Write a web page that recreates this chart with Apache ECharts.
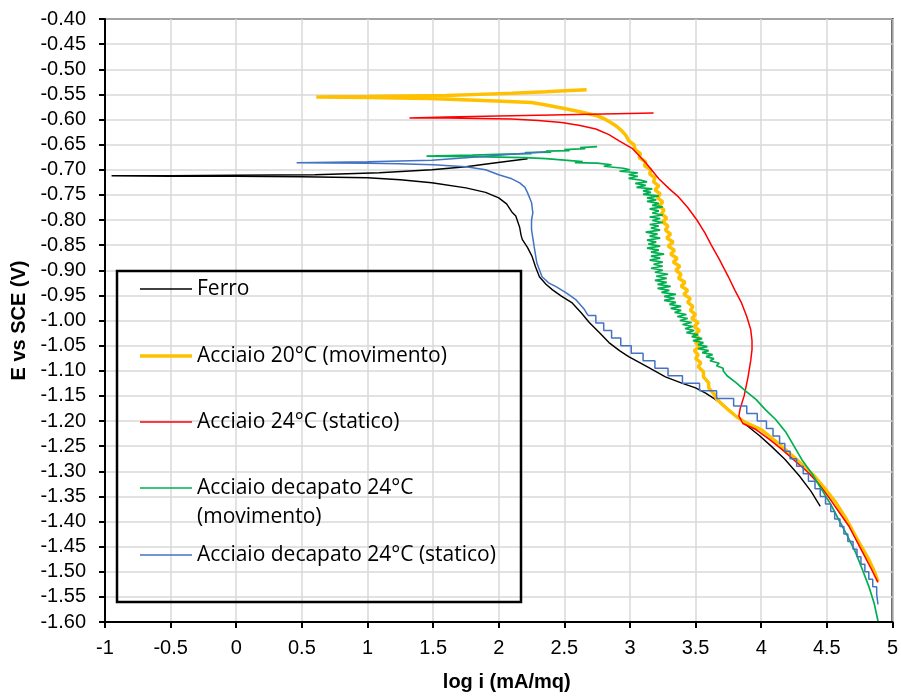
<!DOCTYPE html>
<html>
<head>
<meta charset="utf-8">
<script src="https://cdn.jsdelivr.net/npm/echarts@6/dist/echarts.min.js"></script>
<style>
  html, body { margin: 0; padding: 0; background: #fff; }
  #chart { width: 901px; height: 697px; }
</style>
</head>
<body>
<div id="chart"></div>
<script>
// Potentiodynamic polarisation curves: potential E (V vs SCE) against log i (mA/mq).
// Each curve is stored as [log i, E] pairs in acquisition order.

const seriesNames = [
  'Ferro',
  'Acciaio 20°C (movimento)',
  'Acciaio 24°C (statico)',
  'Acciaio decapato 24°C (movimento)',
  'Acciaio decapato 24°C (statico)'
];

const xTicks = { min: -1, max: 5, step: 0.5 };
const yTicks = { min: -1.6, max: -0.4, step: 0.05 };

const ferro = [
  [2.22,-0.678],[1.98,-0.686],[1.75,-0.694],[1.49,-0.700],[1.09,-0.706],[0.60,-0.710],
  [0.00,-0.711],[-0.50,-0.712],[-0.95,-0.712],
  [-0.50,-0.713],[0.00,-0.713],[0.50,-0.714],[1.00,-0.716],[1.25,-0.720],[1.49,-0.726],
  [1.75,-0.736],[1.90,-0.745],[2.00,-0.756],[2.06,-0.768],[2.10,-0.784],[2.13,-0.792],
  [2.16,-0.815],[2.17,-0.830],[2.18,-0.839],[2.22,-0.855],[2.255,-0.873],[2.28,-0.893],
  [2.31,-0.913],[2.36,-0.928],[2.41,-0.939],[2.48,-0.952],[2.56,-0.965],[2.63,-0.985],
  [2.69,-1.004],[2.77,-1.025],[2.84,-1.044],[2.92,-1.060],[2.99,-1.072],[3.13,-1.092],
  [3.27,-1.112],[3.40,-1.125],[3.50,-1.134],[3.58,-1.145],[3.65,-1.157],[3.73,-1.172],
  [3.83,-1.195],[3.90,-1.211],[3.99,-1.230],[4.08,-1.251],[4.18,-1.276],[4.29,-1.309],
  [4.38,-1.340],[4.45,-1.370]
];

const acciaio20Mov = [
  [2.67,-0.541],[2.50,-0.543],[2.36,-0.545],[2.10,-0.548],[1.85,-0.550],[1.60,-0.552],
  [1.30,-0.553],[1.00,-0.554],[0.61,-0.555],
  [1.00,-0.556],[1.47,-0.558],[1.98,-0.563],[2.25,-0.566],[2.36,-0.571],[2.48,-0.577],
  [2.61,-0.584],[2.74,-0.592],[2.80,-0.598],[2.86,-0.607],[2.90,-0.614],[2.94,-0.623],
  [2.97,-0.632],[2.99,-0.642],[3.03,-0.650],[3.04,-0.660],[3.08,-0.668],[3.07,-0.676],
  [3.12,-0.684],[3.11,-0.692],[3.16,-0.700],[3.15,-0.708],[3.19,-0.716],[3.18,-0.724],
  [3.22,-0.732],[3.19,-0.740],[3.23,-0.748],[3.21,-0.756],[3.25,-0.764],[3.22,-0.772],
  [3.26,-0.780],[3.24,-0.788],[3.28,-0.796],[3.25,-0.804],[3.29,-0.812],[3.27,-0.820],
  [3.31,-0.828],[3.28,-0.836],[3.33,-0.844],[3.29,-0.852],[3.34,-0.860],[3.31,-0.868],
  [3.36,-0.876],[3.33,-0.884],[3.38,-0.892],[3.35,-0.900],[3.39,-0.908],[3.37,-0.916],
  [3.42,-0.924],[3.39,-0.932],[3.44,-0.940],[3.41,-0.948],[3.46,-0.956],[3.44,-0.964],
  [3.48,-0.972],[3.46,-0.980],[3.50,-0.988],[3.47,-0.996],[3.52,-1.004],[3.49,-1.012],
  [3.53,-1.020],[3.49,-1.028],[3.53,-1.036],[3.50,-1.044],[3.53,-1.052],[3.49,-1.060],
  [3.52,-1.068],[3.50,-1.076],[3.54,-1.084],[3.52,-1.092],[3.56,-1.102],[3.56,-1.112],
  [3.60,-1.124],[3.60,-1.134],[3.64,-1.146],[3.66,-1.156],[3.70,-1.166],[3.75,-1.178],
  [3.81,-1.191],[3.88,-1.203],[4.00,-1.217],[4.10,-1.238],[4.21,-1.263],[4.31,-1.286],
  [4.41,-1.311],[4.49,-1.336],[4.57,-1.363],[4.65,-1.396],[4.72,-1.430],[4.77,-1.453],
  [4.82,-1.476],[4.86,-1.498],[4.89,-1.519]
];

const acciaio24Stat = [
  [3.18,-0.587],[2.80,-0.589],[2.40,-0.591],[2.00,-0.593],[1.60,-0.595],[1.32,-0.597],
  [1.60,-0.597],[2.10,-0.599],[2.30,-0.602],[2.48,-0.606],[2.62,-0.612],[2.74,-0.619],
  [2.84,-0.630],[2.92,-0.643],[3.02,-0.658],[3.12,-0.686],[3.22,-0.718],[3.30,-0.738],
  [3.37,-0.754],[3.44,-0.775],[3.51,-0.800],[3.57,-0.825],[3.62,-0.850],[3.68,-0.878],
  [3.75,-0.913],[3.80,-0.940],[3.85,-0.965],[3.89,-0.992],[3.92,-1.018],[3.93,-1.040],
  [3.93,-1.058],[3.92,-1.080],[3.90,-1.112],[3.87,-1.150],[3.84,-1.175],[3.83,-1.190],
  [3.86,-1.205],[3.96,-1.217],[4.06,-1.236],[4.16,-1.257],[4.26,-1.280],[4.36,-1.303],
  [4.44,-1.326],[4.51,-1.350],[4.59,-1.380],[4.67,-1.410],[4.73,-1.440],[4.79,-1.470],
  [4.84,-1.495],[4.89,-1.521]
];

const decapato24Mov = [
  [2.75,-0.654],[2.62,-0.656],[2.66,-0.658],[2.50,-0.660],[2.54,-0.662],[2.36,-0.663],
  [2.40,-0.665],[2.20,-0.666],[2.25,-0.668],[2.05,-0.669],[1.80,-0.671],[1.45,-0.673],
  [1.80,-0.674],[2.20,-0.676],[2.36,-0.678],[2.50,-0.681],[2.64,-0.684],[2.58,-0.686],
  [2.75,-0.687],[2.86,-0.690],[2.80,-0.693],[2.95,-0.697],
  [3.00,-0.700],[2.92,-0.703],[3.06,-0.706],[2.99,-0.710],[3.06,-0.713],[2.99,-0.717],
  [3.07,-0.720],[3.13,-0.724],[3.04,-0.727],[3.12,-0.731],[3.05,-0.735],[3.17,-0.738],
  [3.10,-0.742],[3.16,-0.745],[3.10,-0.749],[3.22,-0.752],[3.13,-0.756],[3.20,-0.760],
  [3.13,-0.763],[3.22,-0.767],[3.17,-0.771],[3.25,-0.774],[3.15,-0.778],[3.22,-0.782],
  [3.17,-0.786],[3.25,-0.790],[3.15,-0.794],[3.23,-0.797],[3.17,-0.801],[3.25,-0.805],
  [3.15,-0.809],[3.22,-0.812],[3.16,-0.816],[3.23,-0.820],[3.12,-0.824],[3.21,-0.828],
  [3.15,-0.832],[3.23,-0.836],[3.13,-0.840],[3.20,-0.844],[3.14,-0.848],[3.23,-0.852],
  [3.13,-0.856],[3.22,-0.860],[3.16,-0.864],[3.26,-0.868],[3.16,-0.872],[3.23,-0.876],
  [3.15,-0.880],[3.25,-0.884],[3.18,-0.888],[3.25,-0.892],[3.16,-0.896],[3.25,-0.900],
  [3.19,-0.904],[3.29,-0.908],[3.20,-0.912],[3.28,-0.916],[3.19,-0.920],[3.28,-0.924],
  [3.21,-0.928],[3.31,-0.932],[3.21,-0.936],[3.30,-0.940],[3.24,-0.944],[3.35,-0.948],
  [3.26,-0.952],[3.34,-0.956],[3.26,-0.960],[3.35,-0.964],[3.30,-0.968],[3.39,-0.972],
  [3.31,-0.976],[3.39,-0.980],[3.34,-0.984],[3.43,-0.988],[3.36,-0.992],[3.44,-0.996],
  [3.38,-1.000],[3.47,-1.004],[3.40,-1.008],[3.48,-1.012],[3.42,-1.016],[3.49,-1.020],
  [3.43,-1.024],[3.52,-1.028],[3.47,-1.032],[3.55,-1.036],[3.48,-1.040],[3.56,-1.044],
  [3.52,-1.048],[3.59,-1.052],[3.52,-1.056],[3.60,-1.060],[3.55,-1.064],[3.63,-1.068],
  [3.58,-1.072],[3.64,-1.076],[3.61,-1.080],[3.68,-1.085],[3.66,-1.090],[3.71,-1.095],
  [3.71,-1.100],
  [3.74,-1.110],[3.81,-1.124],[3.88,-1.140],[3.96,-1.157],[4.03,-1.177],[4.11,-1.197],
  [4.19,-1.223],[4.25,-1.250],[4.31,-1.277],[4.39,-1.306],[4.46,-1.336],[4.53,-1.366],
  [4.59,-1.396],[4.66,-1.430],[4.72,-1.462],[4.77,-1.495],[4.82,-1.529],[4.86,-1.562],
  [4.89,-1.598]
];

// smooth part of the pickled-steel static curve (around the corrosion potential)
const decapato24StatSmooth = [
  [2.36,-0.664],[2.20,-0.667],[2.00,-0.671],[1.75,-0.676],[1.49,-0.681],[1.00,-0.684],
  [0.46,-0.686],
  [1.00,-0.687],[1.24,-0.688],[1.50,-0.690],[1.75,-0.694],[1.90,-0.700],[2.00,-0.710],
  [2.10,-0.718],[2.16,-0.726],[2.20,-0.735],[2.22,-0.746],[2.25,-0.765],[2.26,-0.786],
  [2.25,-0.800],[2.25,-0.819],[2.27,-0.853],[2.29,-0.885],[2.33,-0.913],[2.38,-0.925],
  [2.44,-0.933],[2.52,-0.946],[2.59,-0.959],[2.65,-0.977],[2.68,-0.990]
];

// cathodic branch of the same curve, recorded with a coarse potential step
const decapato24StatSteps = [
  [2.68,-0.990],[2.74,-1.005],[2.80,-1.020],[2.86,-1.035],[2.93,-1.050],[3.01,-1.065],
  [3.10,-1.080],[3.19,-1.095],[3.29,-1.110],[3.40,-1.125],[3.53,-1.140],[3.66,-1.155],
  [3.79,-1.170],[3.89,-1.185],[3.97,-1.200],[4.04,-1.215],[4.09,-1.230],[4.14,-1.245],
  [4.18,-1.260],[4.22,-1.275],[4.27,-1.290],[4.32,-1.305],[4.36,-1.320],[4.41,-1.335],
  [4.45,-1.350],[4.49,-1.365],[4.53,-1.380],[4.56,-1.395],[4.60,-1.410],[4.63,-1.425],
  [4.66,-1.440],[4.70,-1.455],[4.73,-1.470],[4.76,-1.485],[4.79,-1.500],[4.82,-1.515],
  [4.85,-1.530],[4.88,-1.545],[4.89,-1.565]
];

const colors = ['#000000', '#FFC000', '#FF0000', '#00B050', '#4472C4'];
const widths = [1.4, 3.5, 1.5, 1.7, 1.5];

const chart = echarts.init(document.getElementById('chart'), null, { renderer: 'canvas' });

function lineSeries(name, data, idx, extra) {
  return Object.assign({
    name: name,
    type: 'line',
    data: data,
    symbol: 'none',
    showSymbol: false,
    smooth: false,
    animation: false,
    z: 2 + idx * 0.1,
    lineStyle: { color: colors[idx], width: widths[idx] },
    itemStyle: { color: colors[idx] },
    emphasis: { disabled: true }
  }, extra || {});
}

// one legend block per entry so every row sits on its own line of the frame;
// the wrapped entry gets an empty first line so its key stays level with its first line
const legendRowCentres = [289, 356, 422, 488, 555];
const legends = seriesNames.map((n, i) => {
  const wrapped = i === 3;
  return {
    data: [{ name: n, icon: 'rect' }],
    orient: 'vertical',
    left: 140,
    top: legendRowCentres[i] - (wrapped ? 43.5 : 14.5),
    padding: 0,
    itemWidth: 52,
    itemHeight: widths[i],
    itemGap: 0,
    selectedMode: false,
    formatter: wrapped ? ' \nAcciaio decapato 24°C\n(movimento)' : '{name}',
    textStyle: { fontFamily: 'Open Sans', fontSize: 21, color: '#000', lineHeight: 29 }
  };
});

const axisFont = { fontFamily: 'Liberation Sans', fontSize: 20, color: '#000' };

chart.setOption({
  backgroundColor: '#fff',
  animation: false,
  grid: {
    left: 105, right: 7, top: 19, bottom: 74,
    show: true, borderColor: '#000', borderWidth: 2, containLabel: false
  },
  xAxis: {
    type: 'value',
    min: xTicks.min, max: xTicks.max, interval: xTicks.step,
    name: 'log i (mA/mq)',
    nameLocation: 'middle',
    nameGap: 50,
    nameTextStyle: { fontFamily: 'Liberation Sans', fontSize: 20, fontWeight: 'bold', color: '#000', padding: [0, 0, 0, 16] },
    axisLine: { show: true, onZero: false, lineStyle: { color: '#000', width: 2 } },
    axisTick: { show: true, length: 6, lineStyle: { color: '#000', width: 2 } },
    axisLabel: Object.assign({ margin: 16, showMinLabel: true, showMaxLabel: true }, axisFont),
    splitLine: { show: true, lineStyle: { color: '#d9d9d9', width: 1.5 } }
  },
  yAxis: {
    type: 'value',
    min: yTicks.min, max: yTicks.max, interval: yTicks.step,
    name: 'E vs SCE (V)',
    nameLocation: 'middle',
    nameGap: 75,
    nameTextStyle: { fontFamily: 'Liberation Sans', fontSize: 20, fontWeight: 'bold', color: '#000' },
    axisLine: { show: true, onZero: false, lineStyle: { color: '#000', width: 2 } },
    axisTick: { show: true, length: 6, lineStyle: { color: '#000', width: 2 } },
    axisLabel: Object.assign({
      margin: 19, showMinLabel: true, showMaxLabel: true,
      formatter: v => v.toFixed(2)
    }, axisFont),
    splitLine: { show: true, lineStyle: { color: '#d9d9d9', width: 1.5 } }
  },
  legend: legends,
  graphic: [{
    type: 'rect',
    z: 5,
    shape: { x: 117, y: 271, width: 404, height: 331 },
    style: { fill: 'none', stroke: '#000', lineWidth: 2.5 },
    silent: true
  }],
  series: [
    lineSeries(seriesNames[0], ferro, 0),
    lineSeries(seriesNames[1], acciaio20Mov, 1),
    lineSeries(seriesNames[2], acciaio24Stat, 2),
    lineSeries(seriesNames[3], decapato24Mov, 3),
    lineSeries(seriesNames[4], decapato24StatSmooth, 4),
    lineSeries(seriesNames[4], decapato24StatSteps, 4, { step: 'end' })
  ]
});
</script>
</body>
</html>
